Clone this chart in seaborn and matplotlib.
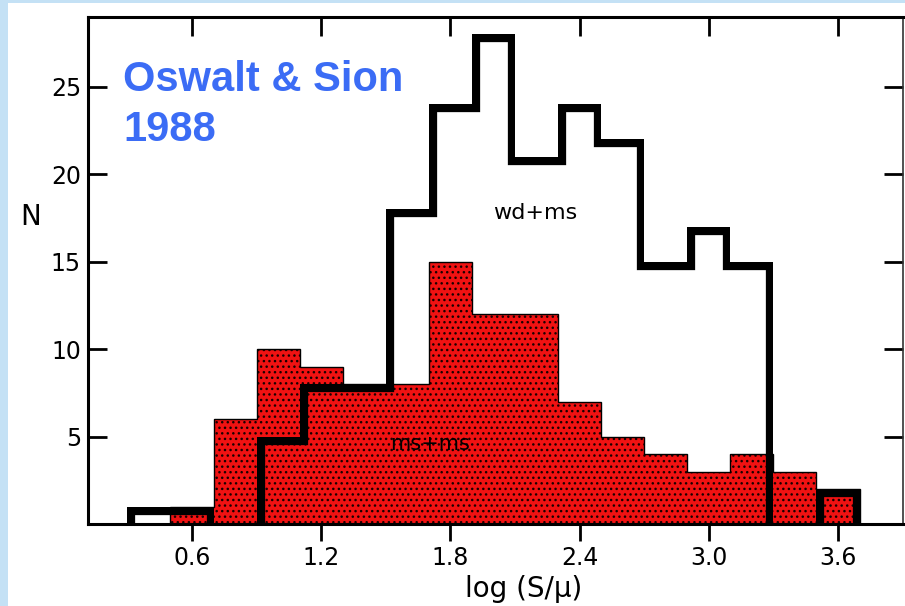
import numpy as np
import pandas as pd
import matplotlib
matplotlib.use("Agg")
import matplotlib.pyplot as plt
from matplotlib.patches import Rectangle
import seaborn as sns

# Binned separations, log(S/mu), bin width 0.2
bin_edges = [0.3, 0.5, 0.7, 0.9, 1.1, 1.3, 1.5, 1.7, 1.9, 2.1, 2.3, 2.5,
             2.7, 2.9, 3.1, 3.3, 3.5, 3.7]
wd_ms = [1, 1, 0, 5, 8, 8, 18, 24, 28, 21, 24, 22, 15, 17, 15, 0, 2]
ms_ms = [0, 1, 6, 10, 9, 8, 8, 15, 12, 12, 7, 5, 4, 3, 4, 3, 2]
x_ticks = [0.6, 1.2, 1.8, 2.4, 3.0, 3.6]
x_tick_labels = ["0.6", "1.2", "1.8", "2.4", "3.0", "3.6"]
y_ticks = [5, 10, 15, 20, 25]

sns.set_style("ticks")
plt.rcParams["font.family"] = ["DejaVu Sans"]
plt.rcParams["hatch.linewidth"] = 1.0
for key in ["text.color", "axes.labelcolor", "xtick.color", "ytick.color",
            "xtick.labelcolor", "ytick.labelcolor"]:
    plt.rcParams[key] = "black"

edges = np.array(bin_edges)
centers = (edges[:-1] + edges[1:]) / 2
df = pd.DataFrame({"logsep": centers, "wd_ms": wd_ms, "ms_ms": ms_ms})

fig = plt.figure(figsize=(9.05, 6.06), dpi=100)
fig.patch.set_facecolor("#c4e1f5")
# white page behind the plot
page = Rectangle((8 / 905, 0), 1, 1 - 3 / 606, transform=fig.transFigure,
                 facecolor="white", edgecolor="none", zorder=-10)
fig.add_artist(page)

ax = fig.add_axes([88 / 905, 82 / 606, 815 / 905, 507 / 606])
ax.set_zorder(1)
ax.set_facecolor("white")

# ms+ms : filled stippled red bars
sns.histplot(data=df, x="logsep", weights="ms_ms", bins=list(bin_edges), ax=ax,
             element="bars", color="#f01212", edgecolor="#1a0000", linewidth=0,
             hatch="...", alpha=1, zorder=1)
# thin rim around the stippled area
ax.stairs(df["ms_ms"].to_numpy(), edges, baseline=0, fill=False,
          color="black", linewidth=1.0, zorder=2)

# wd+ms : heavy open outline, stroked on the inside of the histogram
outline = ax.stairs(df["wd_ms"].to_numpy(), edges, baseline=0, fill=False,
                    color="black", linewidth=11, zorder=3)
outline.set_clip_path(outline)

ax.set_xlim(0.117, 3.902)
ax.set_ylim(0, 29)

ax.set_xticks(x_ticks)
ax.set_xticklabels(x_tick_labels)
ax.set_yticks(y_ticks)
ax.tick_params(axis="x", direction="out", length=12, width=2, labelsize=17,
               pad=4, colors="black")
ax.tick_params(axis="y", direction="in", length=14, width=2, labelsize=17,
               pad=5, left=True, right=True, colors="black")

top = ax.secondary_xaxis("top")
top.set_xticks(x_ticks)
top.tick_params(axis="x", direction="in", length=14, width=2, labeltop=False)
top.spines["top"].set_linewidth(2)

for side in ["left", "bottom", "top"]:
    ax.spines[side].set_linewidth(2.2)
    ax.spines[side].set_color("black")
    ax.spines[side].set_visible(True)
ax.spines["right"].set_visible(True)
ax.spines["right"].set_linewidth(1.2)
ax.spines["right"].set_color("#333333")
ax.spines["right"].set_linestyle((0, (2, 1)))
for sp in ax.spines.values():
    sp.set_zorder(4)

ax.set_xlabel("log (S/μ)", fontsize=20, va="center", color="black")
ax.xaxis.set_label_coords(0.534, -0.128)
ax.set_ylabel("N", rotation=0, fontsize=20, ha="center", va="center", color="black")
ax.yaxis.set_label_coords(-0.070, 0.6055)

ax.text(2.193, 17.8, "wd+ms", fontsize=16, ha="center", va="center",
        color="black", zorder=5)
ax.text(1.705, 4.6, "ms+ms", fontsize=15, ha="center", va="center",
        color="black", zorder=5)

title_kw = dict(fontsize=30, fontweight="bold", color="#3b6cf5",
                family=["Liberation Sans", "DejaVu Sans"], ha="left", va="baseline",
                zorder=6)
fig.text(123 / 905, 1 - 91 / 606, "Oswalt & Sion", **title_kw)
fig.text(123 / 905, 1 - 141 / 606, "1988", **title_kw)

fig.savefig("out.png", dpi=100)
